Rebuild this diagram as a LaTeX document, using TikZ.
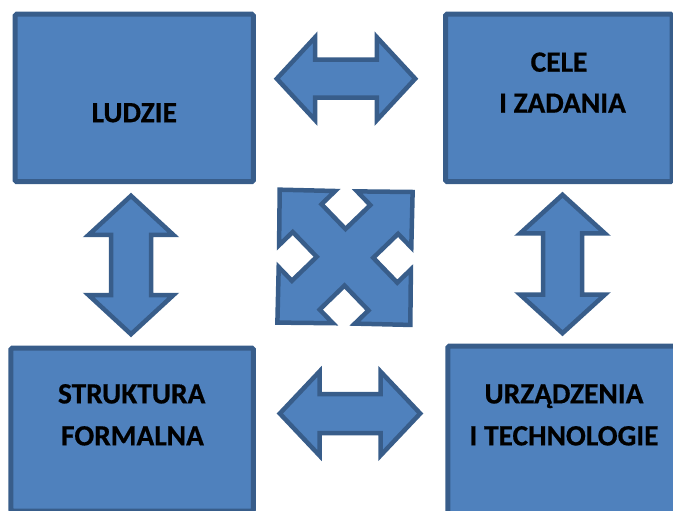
\documentclass[tikz,border=0pt]{standalone}
\usepackage{fontspec}
\setmainfont{Carlito}[BoldFeatures={FakeBold=0.6}]
\begin{document}
\begin{tikzpicture}[x=1bp,y=-1bp,
  blockfill/.style={fill=boxblue,draw=boxedge},
  box/.style={blockfill,line width=5bp,rounded corners=1.5bp,inner sep=0pt},
  shape arrow/.style={blockfill,line width=4.5bp,line join=miter},
  label/.style={font=\bfseries\fontsize{29.5}{42}\selectfont,anchor=base,inner sep=0pt},
  pics/dblarrow/.style args={#1/#2/#3/#4}{code={%
    % #1 half length, #2 head base, #3 head half width, #4 shaft half width
    \draw[shape arrow] (-#1,0) -- (-#2,-#3) -- (-#2,-#4) -- (#2,-#4) -- (#2,-#3)
      -- (#1,0) -- (#2,#3) -- (#2,#4) -- (-#2,#4) -- (-#2,#3) -- cycle;}}]
\definecolor{boxblue}{HTML}{4F81BD}
\definecolor{boxedge}{HTML}{385D8A}
\useasboundingbox (0,0) rectangle (673,511);
\clip (0,0) rectangle (673,511);

% four blocks
\node[box,minimum width=238.1bp,minimum height=167.5bp] (ludzie) at (134.25,97.95) {};
\node[box,minimum width=226.5bp,minimum height=167.4bp] (cele) at (558.75,97.9) {};
\node[box,minimum width=242.3bp,minimum height=163bp] (struktura) at (132.15,429.5) {};
\node[box,minimum width=252.2bp,minimum height=194bp] (urzadzenia) at (573.9,443) {};

% labels
\node[label] (t1) at (134.3,122.2) {LUDZIE};
\node[label] (t2) at (559,71.7) {CELE};
\node[label] (t3) at (562.5,112.7) {I ZADANIA};
\node[label] (t4) at (131.7,403.4) {STRUKTURA};
\node[label] (t5) at (132.5,445.4) {FORMALNA};
\node[label] (t6) at (564,403.4) {URZĄDZENIA};
\node[label] (t7) at (564,445.4) {I TECHNOLOGIE};

% two-headed block arrows between neighbouring blocks
\pic at (346,78.7) {dblarrow={69.2/30.8/41.5/19}};
\pic at (350,413.5) {dblarrow={70.2/30.5/42/19.5}};
\pic[rotate=90] at (131,265) {dblarrow={69.2/30/42.5/20}};
\pic[rotate=90] at (562.5,264) {dblarrow={69.2/30.5/42.5/19.5}};

% four-way arrow in the middle, arms pointing to the corners
\draw[shape arrow,shift={(345,257.3)},rotate=44]
  (94,0) -- (54.5,39) -- (54.5,20) -- (20,20) -- (20,54.5) -- (39,54.5)
  -- (0,94) -- (-39,54.5) -- (-20,54.5) -- (-20,20) -- (-54.5,20) -- (-54.5,39)
  -- (-94,0) -- (-54.5,-39) -- (-54.5,-20) -- (-20,-20) -- (-20,-54.5) -- (-39,-54.5)
  -- (0,-94) -- (39,-54.5) -- (20,-54.5) -- (20,-20) -- (54.5,-20) -- (54.5,-39) -- cycle;
\end{tikzpicture}
\end{document}
